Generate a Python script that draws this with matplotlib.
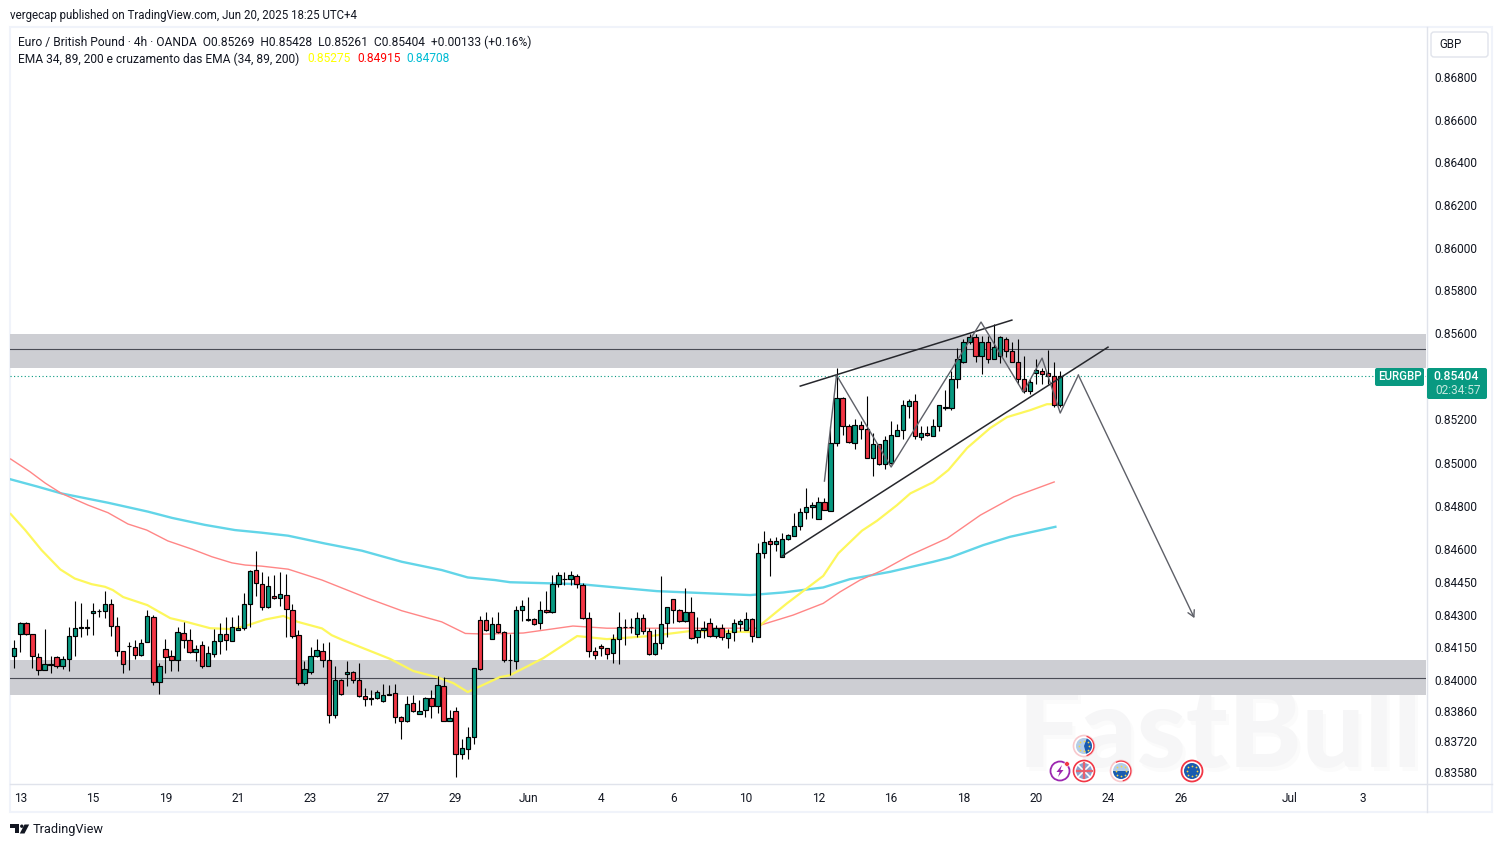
import matplotlib
matplotlib.use("Agg")
import matplotlib.pyplot as plt
from matplotlib.patches import Rectangle, FancyBboxPatch, Circle, Wedge
from matplotlib.ticker import NullLocator, FixedLocator, FixedFormatter
from matplotlib.transforms import ScaledTranslation
import numpy as np

plt.rcParams['font.family'] = ['Roboto', 'DejaVu Sans']

opens = [
0.84117,0.84215,0.84265,0.84215,0.84110,0.84050,0.84073,0.84110,0.84068,0.84100,
0.84206,0.84245,0.84247,0.84311,0.84319,0.84320,0.84352,0.84251,0.84137,0.84160,
0.84155,0.84119,0.84178,0.84293,0.83995,0.84146,0.84114,0.84096,0.84219,0.84187,
0.84132,0.84164,0.84068,0.84123,0.84183,0.84215,0.84183,0.84233,0.84242,0.84352,
0.84508,0.84443,0.84337,0.84388,0.84379,0.84393,0.84324,0.84210,0.83991,0.84041,
0.84114,0.84137,0.84096,0.83845,0.84005,0.84032,0.84041,0.84005,0.83931,0.83918,
0.83922,0.83909,0.83936,0.83945,0.83836,0.83817,0.83899,0.83849,0.83868,0.83922,
0.83886,0.83977,0.83817,0.83863,0.83666,0.83689,0.83744,0.84279,0.84279,0.84192,
0.84260,0.84224,0.84095,0.84091,0.84324,0.84279,0.84283,0.84265,0.84324,0.84315,
0.84444,0.84466,0.84466,0.84480,0.84439,0.84288,0.84137,0.84159,0.84150,0.84127,
0.84192,0.84247,0.84247,0.84214,0.84288,0.84228,0.84123,0.84173,0.84265,0.84375,
0.84324,0.84274,0.84315,0.84201,0.84233,0.84265,0.84205,0.84242,0.84196,0.84224,
0.84260,0.84233,0.84283,0.84201,0.84586,0.84641,0.84628,0.84568,0.84651,0.84665,
0.84711,0.84775,0.84799,0.84743,0.84822,0.84780,0.85094,0.85302,0.85173,0.85094,
0.85177,0.85159,0.85025,0.85090,0.84997,0.85002,0.85127,0.85154,0.85265,0.85288,
0.85124,0.85143,0.85129,0.85176,0.85259,0.85259,0.85390,0.85469,0.85562,0.85585,
0.85497,0.85562,0.85487,0.85497,0.85580,0.85520,0.85473,0.85390,0.85334,0.85418,
0.85427,0.85418,0.85408,0.85269]
highs = [
0.84189,0.84271,0.84271,0.84215,0.84128,0.84239,0.84114,0.84114,0.84114,0.84247,
0.84368,0.84357,0.84285,0.84357,0.84329,0.84413,0.84375,0.84293,0.84137,0.84178,
0.84187,0.84192,0.84325,0.84302,0.84082,0.84193,0.84142,0.84247,0.84270,0.84238,
0.84164,0.84183,0.84160,0.84238,0.84265,0.84293,0.84293,0.84302,0.84403,0.84510,
0.84597,0.84500,0.84480,0.84485,0.84500,0.84490,0.84353,0.84233,0.84091,0.84155,
0.84192,0.84174,0.84178,0.84069,0.84009,0.84091,0.84046,0.84082,0.83968,0.83959,
0.83959,0.83986,0.83982,0.83986,0.83840,0.83931,0.83936,0.83913,0.83927,0.83959,
0.84023,0.84018,0.83867,0.83881,0.83735,0.83790,0.84059,0.84297,0.84315,0.84292,
0.84315,0.84228,0.84214,0.84343,0.84370,0.84384,0.84288,0.84366,0.84411,0.84485,
0.84498,0.84498,0.84503,0.84489,0.84448,0.84315,0.84155,0.84169,0.84150,0.84214,
0.84315,0.84283,0.84288,0.84315,0.84306,0.84242,0.84237,0.84480,0.84338,0.84375,
0.84329,0.84425,0.84384,0.84292,0.84274,0.84288,0.84256,0.84260,0.84237,0.84283,
0.84283,0.84315,0.84288,0.84632,0.84688,0.84655,0.84660,0.84678,0.84674,0.84771,
0.84794,0.84888,0.84822,0.84846,0.84840,0.85173,0.85444,0.85307,0.85182,0.85205,
0.85196,0.85311,0.85140,0.85090,0.85127,0.85196,0.85182,0.85293,0.85297,0.85321,
0.85176,0.85176,0.85208,0.85269,0.85343,0.85431,0.85534,0.85580,0.85599,0.85599,
0.85590,0.85590,0.85646,0.85590,0.85585,0.85562,0.85580,0.85497,0.85390,0.85487,
0.85445,0.85525,0.85469,0.85428]
lows = [
0.84058,0.84135,0.84209,0.84058,0.84030,0.84050,0.84035,0.84062,0.84055,0.84048,
0.84113,0.84204,0.84212,0.84212,0.84293,0.84287,0.84207,0.84113,0.84039,0.84051,
0.84102,0.84114,0.84178,0.83980,0.83943,0.84035,0.84048,0.84048,0.84151,0.84128,
0.84094,0.84058,0.84068,0.84110,0.84126,0.84140,0.84183,0.84233,0.84233,0.84247,
0.84392,0.84327,0.84334,0.84375,0.84344,0.84204,0.84196,0.83982,0.83982,0.84032,
0.84110,0.84064,0.83807,0.83831,0.83936,0.83977,0.83991,0.83927,0.83886,0.83890,
0.83918,0.83904,0.83936,0.83808,0.83735,0.83813,0.83860,0.83849,0.83836,0.83831,
0.83854,0.83817,0.83817,0.83561,0.83644,0.83644,0.83712,0.84050,0.84228,0.84192,
0.84219,0.84086,0.84030,0.84057,0.84274,0.84274,0.84256,0.84237,0.84311,0.84311,
0.84430,0.84439,0.84439,0.84425,0.84283,0.84109,0.84100,0.84114,0.84100,0.84082,
0.84076,0.84164,0.84219,0.84201,0.84214,0.84118,0.84118,0.84146,0.84201,0.84265,
0.84269,0.84269,0.84192,0.84173,0.84195,0.84201,0.84196,0.84187,0.84150,0.84182,
0.84228,0.84233,0.84178,0.84201,0.84563,0.84483,0.84595,0.84568,0.84646,0.84665,
0.84692,0.84743,0.84748,0.84743,0.84785,0.84780,0.85079,0.85131,0.85094,0.85066,
0.85113,0.85025,0.84942,0.84993,0.84974,0.84997,0.85127,0.85113,0.85210,0.85113,
0.85110,0.85129,0.85129,0.85152,0.85250,0.85250,0.85348,0.85464,0.85557,0.85469,
0.85416,0.85464,0.85483,0.85464,0.85492,0.85469,0.85371,0.85329,0.85320,0.85371,
0.85371,0.85371,0.85264,0.85261]
closes = [
0.84151,0.84265,0.84215,0.84114,0.84050,0.84077,0.84077,0.84068,0.84100,0.84206,
0.84242,0.84247,0.84243,0.84320,0.84320,0.84352,0.84251,0.84137,0.84077,0.84161,
0.84119,0.84174,0.84297,0.83995,0.84068,0.84110,0.84096,0.84224,0.84187,0.84132,
0.84146,0.84068,0.84128,0.84183,0.84215,0.84187,0.84247,0.84242,0.84352,0.84503,
0.84448,0.84337,0.84434,0.84379,0.84398,0.84329,0.84206,0.83991,0.84055,0.84114,
0.84142,0.84096,0.83845,0.84005,0.83941,0.84041,0.84005,0.83931,0.83918,0.83922,
0.83950,0.83936,0.83941,0.83836,0.83817,0.83895,0.83863,0.83863,0.83922,0.83886,
0.83982,0.83817,0.83831,0.83666,0.83694,0.83744,0.84059,0.84055,0.84233,0.84260,
0.84224,0.84095,0.84096,0.84324,0.84343,0.84283,0.84260,0.84324,0.84315,0.84444,
0.84485,0.84467,0.84485,0.84444,0.84288,0.84137,0.84118,0.84150,0.84123,0.84192,
0.84247,0.84248,0.84248,0.84288,0.84228,0.84123,0.84173,0.84260,0.84338,0.84324,
0.84274,0.84315,0.84196,0.84233,0.84242,0.84205,0.84242,0.84201,0.84219,0.84265,
0.84274,0.84283,0.84205,0.84586,0.84637,0.84628,0.84641,0.84651,0.84669,0.84711,
0.84775,0.84799,0.84808,0.84822,0.84785,0.85094,0.85302,0.85173,0.85099,0.85177,
0.85159,0.85025,0.85090,0.84997,0.85108,0.85131,0.85154,0.85270,0.85288,0.85127,
0.85143,0.85134,0.85176,0.85269,0.85264,0.85390,0.85487,0.85562,0.85585,0.85497,
0.85562,0.85483,0.85539,0.85585,0.85520,0.85473,0.85390,0.85338,0.85376,0.85432,
0.85413,0.85408,0.85269,0.85404]

ema34_bar = [-0.6,1.8,4.5,7.6,10,12.8,15,16.3,18,22,25.8,28.6,32.4,35.7,38.1,41.5,44.5,46.9,50.9,52.5,54.4,62.2,66,69.9,72.6,75,77.5,80.3,82,87.5,93.1,98,105.2,111.8,122.9,123.4,127.8,133.8,136.3,140.2,142.7,146,148.2,152,154.5,157.6,161.4,164.2,168,170.8,172.2]
ema34 = [0.84767,0.84693,0.84601,0.84512,0.84470,0.84444,0.84432,0.84417,0.84385,0.84348,0.84288,0.84270,0.84242,0.84238,0.84251,0.84282,0.84298,0.84271,0.84241,0.84210,0.84187,0.84101,0.84046,0.84018,0.83991,0.83950,0.83982,0.84018,0.84027,0.84105,0.84206,0.84192,0.84206,0.84229,0.84224,0.84256,0.84356,0.84482,0.84586,0.84690,0.84736,0.84808,0.84862,0.84914,0.84970,0.85072,0.85164,0.85215,0.85247,0.85275,0.85275]
ema89_bar = [-0.6,2.6,5.1,7.8,12.2,15.5,18.8,21.9,25.4,29.4,32.7,36,38.2,40.9,45.3,50.9,58.5,64.1,70.7,74.6,77.9,84.2,92.4,98,111.8,122.9,123.4,128.8,133.8,136.6,139.9,143.7,148.2,154.3,159.8,165.3,172]
ema89 = [0.85021,0.84962,0.84910,0.84862,0.84808,0.84773,0.84721,0.84693,0.84643,0.84605,0.84570,0.84542,0.84532,0.84527,0.84513,0.84463,0.84379,0.84322,0.84271,0.84218,0.84215,0.84220,0.84252,0.84242,0.84242,0.84242,0.84256,0.84302,0.84356,0.84409,0.84463,0.84509,0.84578,0.84655,0.84762,0.84846,0.84915]
ema200_bar = [-0.6,3.9,7.8,15.5,22.1,26.1,31.5,36.5,40.9,45.3,51.4,57.5,64.1,70.7,75,79.5,82,93.6,106.3,121.7,127.2,133.8,138.2,144.9,152,154.8,160.3,164.7,172.2]
ema200 = [0.84927,0.84893,0.84862,0.84819,0.84778,0.84749,0.84717,0.84693,0.84681,0.84667,0.84631,0.84598,0.84547,0.84509,0.84475,0.84463,0.84453,0.84444,0.84412,0.84394,0.84406,0.84429,0.84467,0.84501,0.84547,0.84567,0.84624,0.84662,0.84708]

zones = [(0.85442, 0.85601, 0.85530), (0.83936, 0.84096, 0.84014)]
last_close = 0.85404

wedge_top = ([130, 165], [0.85359, 0.85666])
wedge_low = ([127, 180.9], [0.84573, 0.85540])
path_bar = [134, 136, 145.03, 159.9, 166.9, 170, 173, 176]
path_px = [0.84919, 0.85410, 0.84984, 0.85657, 0.85331, 0.85489, 0.85234, 0.85410]
arrow_end = (195.2, 0.84288)

price_ticks = [0.868,0.866,0.864,0.862,0.860,0.858,0.856,0.852,0.850,0.848,0.846,0.8445,0.843,0.8415,0.840,0.8386,0.8372,0.8358]
time_bars = [1,13,25,37,49,61,73,85,97,109,121,133,145,157,169,181,193,211,223]
time_labels = ['13','15','19','21','23','27','29','Jun','4','6','10','12','16','18','20','24','26','Jul','3']

UP, DOWN, TEAL, INK = '#089981', '#F23645', '#089981', '#131722'
W, H = 1502, 847
fig = plt.figure(figsize=(W/100, H/100), dpi=100, facecolor='white')
ax = fig.add_axes([10/W, (H-784)/H, 1416/W, 757/H], zorder=2)
ax.patch.set_alpha(0)
ax.set_yscale('log')
ax.set_xlim(-0.711, 233.5)
ax.set_ylim(0.83531, 0.87043)

for lo, hi, mid in zones:
    ax.axhspan(lo, hi, color='#CDCED3', lw=0, zorder=1)
    ax.axhline(mid, color='#4A4C55', lw=0.8, zorder=1.5)
ax.axhline(last_close, color=TEAL, lw=0.8, ls=(0, (1, 2.2)), zorder=1.6)

ax.plot(ema200_bar, ema200, color='#62D5E8', lw=1.7, zorder=2)
ax.plot(ema89_bar, ema89, color='#FF8686', lw=1.0, zorder=2)
ax.plot(ema34_bar, ema34, color='#FDF75C', lw=1.6, zorder=2)

idx = np.arange(len(opens))
o, h, l, c = map(np.array, (opens, highs, lows, closes))
ax.vlines(idx, l, h, color='black', lw=0.8, zorder=3)
colors = [UP if b >= a else DOWN for a, b in zip(o, c)]
ax.bar(idx, np.abs(c-o), bottom=np.minimum(o, c), width=0.72, color=colors,
       edgecolor='black', linewidth=0.85, zorder=4)

ax.plot(*wedge_top, color='#26272C', lw=1.1, zorder=5)
ax.plot(*wedge_low, color='#26272C', lw=1.1, zorder=5)
ax.plot(path_bar, path_px, color='#5E6068', lw=1.0, zorder=5)
ax.annotate('', xy=arrow_end, xytext=(path_bar[-1], path_px[-1]),
            arrowprops=dict(arrowstyle='->,head_length=0.45,head_width=0.25', color='#5E6068', lw=1.0,
                            shrinkA=0, shrinkB=0), zorder=5)

for s in ax.spines.values():
    s.set_visible(False)
ax.yaxis.tick_right()
ax.yaxis.set_minor_locator(NullLocator())
ax.yaxis.set_minor_formatter(plt.NullFormatter())
ax.yaxis.set_major_locator(FixedLocator(price_ticks))
ax.yaxis.set_major_formatter(FixedFormatter([f'{p:.5f}' for p in price_ticks]))
ax.xaxis.set_major_locator(FixedLocator(time_bars))
ax.xaxis.set_major_formatter(FixedFormatter(time_labels))
ax.tick_params(axis='y', length=0, pad=6.0, labelsize=8.6, labelcolor=INK)
ax.tick_params(axis='x', length=0, pad=5.8, labelsize=8.6, labelcolor=INK)
up1 = ScaledTranslation(0, 1/100, fig.dpi_scale_trans)
for t in ax.yaxis.get_major_ticks():
    t.label2.set_transform(t.label2.get_transform() + up1)

# page furniture, drawn in picture pixels
ov = fig.add_axes([0, 0, 1, 1], zorder=3)
ov.set_xlim(0, W); ov.set_ylim(H, 0); ov.axis('off')
bg = fig.add_axes([0, 0, 1, 1], zorder=1)
bg.set_xlim(0, W); bg.set_ylim(H, 0); bg.axis('off')

bg.add_patch(Rectangle((9.5, 27), 1482, 785, fc='white', ec='#F0F3FA', lw=1.5))
bg.plot([1426.5, 1426.5], [27, 812], color='#E0E3EB', lw=1)
bg.plot([10, 1492], [784.5, 784.5], color='#E0E3EB', lw=1)

# watermark
for dx, col in ((3, '#FBFBFB'), (0, '#F6F6F7')):
    bg.text(1220+dx, 735+dx, 'FastBull', fontsize=80, fontweight='black', color=col,
            ha='center', va='center', family='Lato')

HEAD = 8.65
ov.text(10, 15, 'vergecap published on TradingView.com, Jun 20, 2025 18:25 UTC+4',
        fontsize=8.3, color=INK, va='center')
ov.text(18, 42, 'Euro / British Pound · 4h · OANDA  O0.85269  H0.85428  L0.85261  C0.85404  +0.00133 (+0.16%)',
        fontsize=HEAD, color=INK, va='center')
ov.text(18, 59, 'EMA 34, 89, 200 e cruzamento das EMA (34, 89, 200)', fontsize=HEAD, color=INK, va='center')
ov.text(307, 59, '0.85275', fontsize=HEAD, color='#FFFF00', va='center')
ov.text(357, 59, '0.84915', fontsize=HEAD, color='#FF0000', va='center')
ov.text(406, 59, '0.84708', fontsize=HEAD, color='#00BCD4', va='center')

ov.add_patch(FancyBboxPatch((1431, 32), 57, 25, boxstyle='round,pad=0,rounding_size=3',
                            fc='white', ec='#E0E3EB', lw=1))
ov.text(1450, 44.5, 'GBP', fontsize=8.3, color=INK, ha='center', va='center')

ov.add_patch(FancyBboxPatch((1375, 368), 49, 18, boxstyle='round,pad=0,rounding_size=2', fc=TEAL, ec='none'))
ov.text(1400, 377, 'EURGBP', fontsize=8.3, color='white', ha='center', va='center', fontweight='medium')
ov.add_patch(FancyBboxPatch((1427, 368), 60, 31, boxstyle='round,pad=0,rounding_size=2', fc=TEAL, ec='none'))
ov.text(1456, 377, '0.85404', fontsize=8.8, color='white', ha='center', va='center', fontweight='medium')
ov.text(1458, 391, '02:34:57', fontsize=8.6, color='#C4E8DF', ha='center', va='center')

# event markers
def eu(cx, cy, fill='#1A5CB0', alpha=1):
    ov.add_patch(Circle((cx, cy), 8, fc=fill, ec='none', alpha=alpha))
    a = np.linspace(0, 2*np.pi, 9)[:-1]
    ov.scatter(cx+5*np.cos(a), cy+5*np.sin(a), s=1.6, color='#F5D64A', lw=0, zorder=6)

# purple flash
ov.add_patch(Circle((1060, 771), 9.5, fc='white', ec='#9C27B0', lw=1.3))
ov.fill([1062, 1056.5, 1059.6, 1058, 1063.5, 1060.4], [765, 772, 772, 777, 770, 770], color='#9C27B0', lw=0)
ov.add_patch(Circle((1067, 764), 2.4, fc='#F23645', ec='white', lw=0.4, zorder=7))
# EU, partly elapsed
ov.add_patch(Circle((1084, 746), 10.5, fc='white', ec='#F8C9CD', lw=1.2))
ov.add_patch(Circle((1084, 746), 8, fc='#B4CDE8', ec='none', zorder=2))
ov.add_patch(Wedge((1084, 746), 8, -70, 75, fc='#1A5CB0', ec='none', zorder=3))
ov.add_patch(Wedge((1084, 746), 10.5, -75, 75, width=1.2, fc='#F23645', ec='none', zorder=3))
a = np.linspace(0, 2*np.pi, 9)[:-1]
ov.scatter(1084+5*np.cos(a), 746+5*np.sin(a), s=1.6, color='#F5D64A', lw=0, zorder=6)
# UK
ov.add_patch(Circle((1084, 771), 10.5, fc='white', ec='#F23645', lw=1.2))
ov.add_patch(Circle((1084, 771), 8, fc='#8AA3CF', ec='none'))
ov.plot([1078, 1090], [765, 777], color='white', lw=1.2)
ov.plot([1078, 1090], [777, 765], color='white', lw=1.2)
ov.plot([1076.5, 1091.5], [771, 771], color='#E8606E', lw=1.6)
ov.plot([1084, 1084], [763.5, 778.5], color='#E8606E', lw=1.6)
# EU half elapsed
ov.add_patch(Circle((1121, 771), 10.5, fc='white', ec='#F8C9CD', lw=1.2))
ov.add_patch(Wedge((1121, 771), 8, 0, 180, fc='#1A5CB0', ec='none', zorder=5))
ov.add_patch(Wedge((1121, 771), 8, 180, 360, fc='#B4CDE8', ec='none', zorder=5))
ov.add_patch(Wedge((1121, 771), 10.5, -120, 80, width=1.2, fc='#F23645', ec='none', zorder=5))
ov.scatter(1121+5*np.cos(a), 771+5*np.sin(a), s=1.6, color='#F5D64A', lw=0, zorder=6)
# EU full
ov.add_patch(Circle((1192, 771), 10.5, fc='white', ec='#F23645', lw=1.3))
eu(1192, 771)

# TradingView footer
ov.add_patch(Rectangle((10, 824.5), 9, 3.4, fc=INK, ec='none'))
ov.add_patch(Rectangle((14.6, 824.5), 4.4, 9, fc=INK, ec='none'))
ov.add_patch(Circle((21.8, 826.2), 1.7, fc=INK, ec='none'))
ov.fill([24.5, 29.2, 24.5, 19.8], [824.5, 824.5, 833.5, 833.5], color=INK, lw=0)
ov.text(33, 829.5, 'TradingView', fontsize=9.2, color=INK, va='center')

fig.savefig('out.png', dpi=100, facecolor='white')
